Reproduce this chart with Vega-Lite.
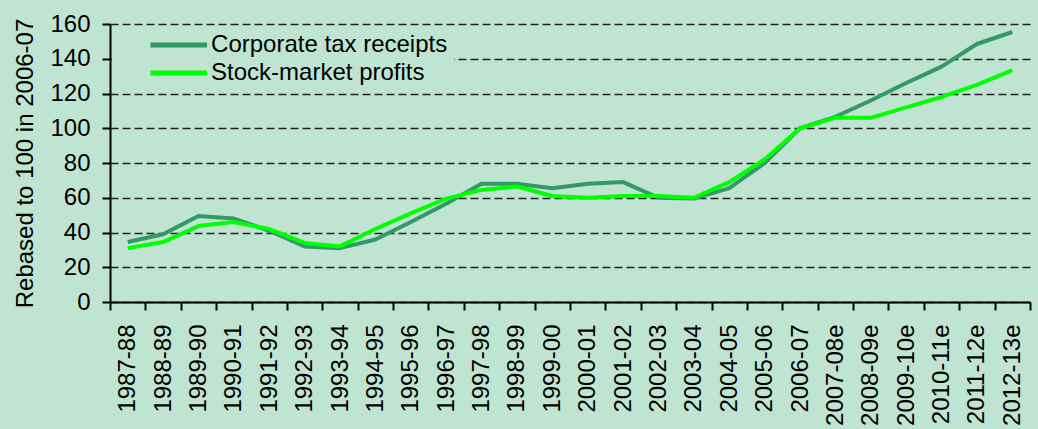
{
  "$schema": "https://vega.github.io/schema/vega-lite/v6.json",
  "width": 920,
  "height": 278,
  "autosize": {"type": "none"},
  "padding": {"left": 110, "top": 24, "right": 8, "bottom": 127},
  "background": "#BFE4D1",
  "config": {
    "view": {"stroke": null},
    "font": "Liberation Sans",
    "axis": {"labelColor": "#000000", "titleColor": "#000000", "domainColor": "#000000", "tickColor": "#000000"}
  },
  "data": {
    "values": [
      {"year": "1987-88", "series": "Corporate tax receipts", "value": 34.5},
      {"year": "1988-89", "series": "Corporate tax receipts", "value": 39},
      {"year": "1989-90", "series": "Corporate tax receipts", "value": 49.5},
      {"year": "1990-91", "series": "Corporate tax receipts", "value": 48},
      {"year": "1991-92", "series": "Corporate tax receipts", "value": 41},
      {"year": "1992-93", "series": "Corporate tax receipts", "value": 32},
      {"year": "1993-94", "series": "Corporate tax receipts", "value": 31},
      {"year": "1994-95", "series": "Corporate tax receipts", "value": 36},
      {"year": "1995-96", "series": "Corporate tax receipts", "value": 46},
      {"year": "1996-97", "series": "Corporate tax receipts", "value": 56.5},
      {"year": "1997-98", "series": "Corporate tax receipts", "value": 68},
      {"year": "1998-99", "series": "Corporate tax receipts", "value": 68},
      {"year": "1999-00", "series": "Corporate tax receipts", "value": 65.5},
      {"year": "2000-01", "series": "Corporate tax receipts", "value": 68},
      {"year": "2001-02", "series": "Corporate tax receipts", "value": 69},
      {"year": "2002-03", "series": "Corporate tax receipts", "value": 60},
      {"year": "2003-04", "series": "Corporate tax receipts", "value": 59.5},
      {"year": "2004-05", "series": "Corporate tax receipts", "value": 65.5},
      {"year": "2005-06", "series": "Corporate tax receipts", "value": 80},
      {"year": "2006-07", "series": "Corporate tax receipts", "value": 100},
      {"year": "2007-08e", "series": "Corporate tax receipts", "value": 106.6},
      {"year": "2008-09e", "series": "Corporate tax receipts", "value": 116},
      {"year": "2009-10e", "series": "Corporate tax receipts", "value": 126},
      {"year": "2010-11e", "series": "Corporate tax receipts", "value": 135.5},
      {"year": "2011-12e", "series": "Corporate tax receipts", "value": 148.5},
      {"year": "2012-13e", "series": "Corporate tax receipts", "value": 155.4},
      {"year": "1987-88", "series": "Stock-market profits", "value": 31},
      {"year": "1988-89", "series": "Stock-market profits", "value": 34.5},
      {"year": "1989-90", "series": "Stock-market profits", "value": 43.7},
      {"year": "1990-91", "series": "Stock-market profits", "value": 46},
      {"year": "1991-92", "series": "Stock-market profits", "value": 42},
      {"year": "1992-93", "series": "Stock-market profits", "value": 34},
      {"year": "1993-94", "series": "Stock-market profits", "value": 32},
      {"year": "1994-95", "series": "Stock-market profits", "value": 42},
      {"year": "1995-96", "series": "Stock-market profits", "value": 51},
      {"year": "1996-97", "series": "Stock-market profits", "value": 59.5},
      {"year": "1997-98", "series": "Stock-market profits", "value": 64.5},
      {"year": "1998-99", "series": "Stock-market profits", "value": 66.5},
      {"year": "1999-00", "series": "Stock-market profits", "value": 61},
      {"year": "2000-01", "series": "Stock-market profits", "value": 60},
      {"year": "2001-02", "series": "Stock-market profits", "value": 61},
      {"year": "2002-03", "series": "Stock-market profits", "value": 61},
      {"year": "2003-04", "series": "Stock-market profits", "value": 60},
      {"year": "2004-05", "series": "Stock-market profits", "value": 69},
      {"year": "2005-06", "series": "Stock-market profits", "value": 82},
      {"year": "2006-07", "series": "Stock-market profits", "value": 100},
      {"year": "2007-08e", "series": "Stock-market profits", "value": 106},
      {"year": "2008-09e", "series": "Stock-market profits", "value": 106},
      {"year": "2009-10e", "series": "Stock-market profits", "value": 112},
      {"year": "2010-11e", "series": "Stock-market profits", "value": 118},
      {"year": "2011-12e", "series": "Stock-market profits", "value": 125},
      {"year": "2012-13e", "series": "Stock-market profits", "value": 133.5}
    ]
  },
  "mark": {"type": "line", "strokeWidth": 4, "strokeJoin": "round"},
  "encoding": {
    "x": {
      "field": "year",
      "type": "ordinal",
      "sort": null,
      "scale": {"type": "band", "paddingInner": 0, "paddingOuter": 0},
      "axis": {
        "title": null,
        "labelAngle": -90,
        "labelFontSize": 24,
        "labelPadding": 14,
        "tickSize": 8,
        "tickWidth": 2,
        "domainWidth": 2,
        "tickBand": "extent",
        "grid": false
      }
    },
    "y": {
      "field": "value",
      "type": "quantitative",
      "scale": {"domain": [0, 160], "nice": false, "zero": true},
      "axis": {
        "values": [0, 20, 40, 60, 80, 100, 120, 140, 160],
        "title": "Rebased to 100 in 2006-07",
        "titleFontSize": 24,
        "titleFontWeight": "normal",
        "titlePadding": 12,
        "labelFontSize": 24,
        "labelPadding": 12,
        "tickSize": 8,
        "tickWidth": 2,
        "domainWidth": 2,
        "grid": true,
        "gridColor": "#222222",
        "gridDash": [8, 4],
        "gridWidth": 1.5
      }
    },
    "color": {
      "field": "series",
      "type": "nominal",
      "scale": {"domain": ["Corporate tax receipts", "Stock-market profits"], "range": ["#339966", "#00FF00"]},
      "legend": {
        "title": null,
        "orient": "none",
        "legendX": 2,
        "legendY": 2,
        "padding": 6,
        "fillColor": "#BFE4D1",
        "symbolType": "stroke",
        "symbolSize": 3200,
        "symbolStrokeWidth": 5,
        "symbolOffset": 29.7,
        "labelFontSize": 24,
        "labelColor": "#000000",
        "labelOffset": 1.4,
        "labelLimit": 500,
        "clipHeight": 26,
        "rowPadding": 2
      }
    }
  }
}
